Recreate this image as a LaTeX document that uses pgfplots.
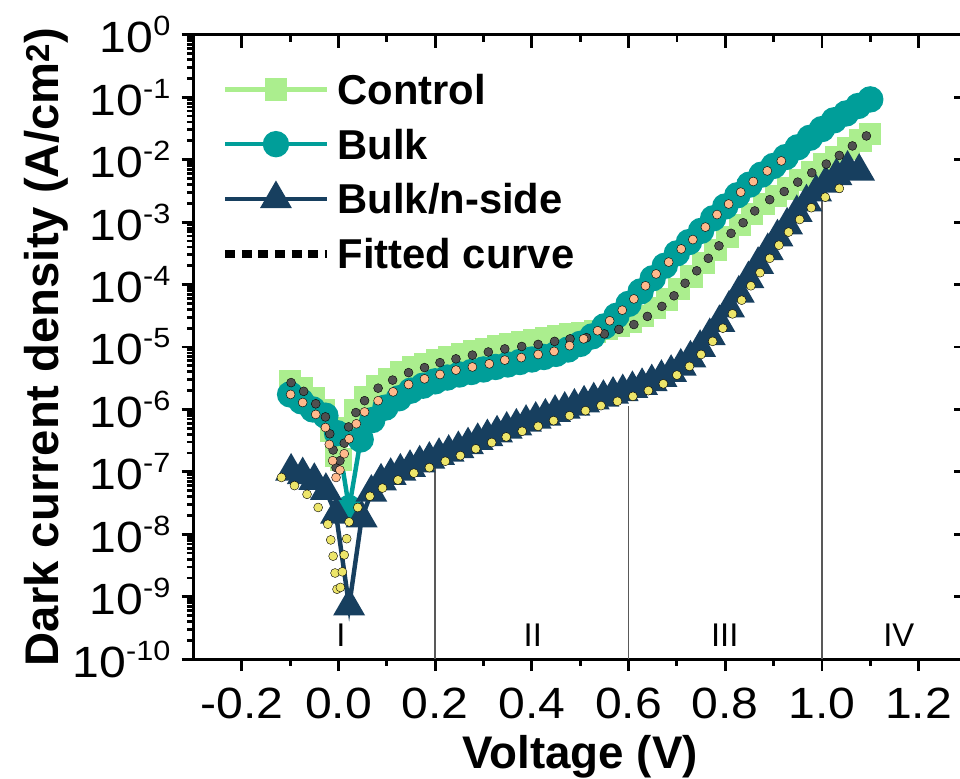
\documentclass[border=0pt]{standalone}
\usepackage{fontspec}
\setmainfont{Liberation Sans}
\newfontfamily\tickfont[FakeStretch=1.1]{Liberation Sans}
\usepackage{pgfplots}
\pgfplotsset{compat=1.18}
\definecolor{cctrl}{HTML}{ABEE8E}
\definecolor{cbulk}{HTML}{009E99}
\definecolor{cnside}{HTML}{173F5F}
\definecolor{fgray}{HTML}{505050}
\definecolor{fpeach}{HTML}{FFB98C}
\definecolor{fyellow}{HTML}{EDE56A}
\newcommand\tl[1]{10\raisebox{17pt}{\fontsize{28}{28}\selectfont #1}}
\begin{document}
\def\myminor{1e-10}
\foreach \e in {-10,...,-1}{\foreach \m in {2,...,9}{\xdef\myminor{\myminor,\m e\e}}}
\begin{tikzpicture}
\begin{axis}[
  at={(0pt,0pt)}, anchor=south west, scale only axis,
  width=778pt, height=628pt,
  xmin=-0.3, xmax=1.3, ymode=log, ymin=1e-10, ymax=1,
  axis line style={line width=3pt},
  tick style={line width=2.8pt, black},
  tick align=outside, xtick pos=bottom, ytick pos=left,
  major tick length=12pt, minor tick length=6.5pt,
  xtick={-0.2,0,0.2,0.4,0.6,0.8,1.0,1.2},
  xticklabels={-0.2,0.0,0.2,0.4,0.6,0.8,1.0,1.2},
  minor x tick num=1,
  ytick={1e-10,1e-9,1e-8,1e-7,1e-6,1e-5,1e-4,1e-3,1e-2,1e-1,1},
  yticklabels={\tl{-10},\tl{-9},\tl{-8},\tl{-7},\tl{-6},\tl{-5},\tl{-4},\tl{-3},\tl{-2},\tl{-1},\tl{0}},
  minor ytick/.expanded={\myminor},
  ticklabel style={font=\tickfont\fontsize{44}{44}\selectfont, inner sep=0pt},
  xticklabel style={anchor=north},
  yticklabel style={anchor=east},
  xticklabel shift=17pt, yticklabel shift=11pt,
  xlabel={Voltage (V)},
  ylabel={Dark current density (A/cm\textsuperscript{2})},
  label style={font=\bfseries\fontsize{46}{46}\selectfont, inner sep=0pt},
  xlabel style={at={(axis description cs:0.5,-0.1752)}, anchor=base},
  ylabel style={at={(axis description cs:-0.1748,0.5)}, anchor=base, font=\bfseries\fontsize{47.5}{47.5}\selectfont},
  legend style={at={(axis description cs:0.036,0.9363)}, anchor=north west, draw=none, fill=none,
    inner sep=0pt, outer sep=0pt, row sep=25pt, column sep=7pt,
    font=\bfseries\fontsize{42}{42}\selectfont,
    nodes={inner sep=0pt, text height=30pt, text depth=0pt}},
  legend cell align=left,
  legend image code/.code={\draw[mark repeat=2,mark phase=2,#1] plot coordinates {(0pt,0pt) (51pt,0pt) (102pt,0pt)};},
]
% guide lines
\addplot[forget plot, color=black!65, line width=1.5pt] coordinates {(0.2,1e-10) (0.2,1.26e-7)};
\addplot[forget plot, color=black!65, line width=1.5pt] coordinates {(0.6,1e-10) (0.6,1.15e-6)};
\addplot[forget plot, color=black!65, line width=1.5pt] coordinates {(1.0,1e-10) (1.0,2.34e-3)};

% Control
\addplot[color=cctrl, line width=4.5pt, mark=square*, mark size=9pt, mark options={draw=none, fill=cctrl}] coordinates {
(-0.100,2.82e-6) (-0.075,2.19e-6) (-0.050,1.51e-6) (-0.030,9.55e-7) (-0.015,4.47e-7) (-0.005,1.78e-7)
(0.005,1.58e-7) (0.015,5.01e-7) (0.035,9.55e-7) (0.055,1.58e-6) (0.080,2.40e-6) (0.105,3.09e-6)
(0.130,3.89e-6) (0.155,4.68e-6) (0.180,5.37e-6) (0.205,6.17e-6) (0.230,6.92e-6) (0.255,7.76e-6)
(0.280,8.51e-6) (0.305,9.33e-6) (0.330,1.02e-5) (0.355,1.12e-5) (0.380,1.20e-5) (0.405,1.29e-5)
(0.430,1.38e-5) (0.455,1.48e-5) (0.480,1.58e-5) (0.505,1.66e-5) (0.530,1.78e-5) (0.555,1.95e-5)
(0.580,2.19e-5) (0.605,2.57e-5) (0.630,3.16e-5) (0.655,4.17e-5) (0.680,5.75e-5) (0.705,8.51e-5)
(0.730,1.35e-4) (0.755,2.19e-4) (0.780,3.55e-4) (0.805,5.75e-4) (0.830,8.91e-4) (0.855,1.35e-3)
(0.880,1.95e-3) (0.905,2.63e-3) (0.930,3.47e-3) (0.955,4.68e-3) (0.980,6.31e-3) (1.005,8.32e-3)
(1.030,1.10e-2) (1.055,1.51e-2) (1.080,2.04e-2) (1.100,2.57e-2)};
\addlegendentry{Control}

% Bulk
\addplot[color=cbulk, line width=4.5pt, mark=*, mark size=11pt, mark options={draw=none, fill=cbulk}] coordinates {
(-0.100,1.74e-6) (-0.077,1.35e-6) (-0.053,1.00e-6) (-0.027,7.94e-7) (-0.003,4.17e-7) (0.022,2.63e-8)
(0.046,3.31e-7) (0.070,6.76e-7) (0.097,1.07e-6) (0.125,1.51e-6) (0.150,2.00e-6) (0.175,2.40e-6)
(0.200,2.82e-6) (0.225,3.24e-6) (0.250,3.63e-6) (0.275,3.98e-6) (0.300,4.37e-6) (0.325,4.79e-6)
(0.350,5.25e-6) (0.375,5.75e-6) (0.400,6.31e-6) (0.425,6.92e-6) (0.450,7.76e-6) (0.475,9.12e-6)
(0.500,1.12e-5) (0.525,1.48e-5) (0.550,2.14e-5) (0.575,3.16e-5) (0.600,4.90e-5) (0.625,7.76e-5)
(0.650,1.26e-4) (0.675,2.00e-4) (0.700,3.16e-4) (0.725,4.79e-4) (0.750,7.24e-4) (0.775,1.15e-3)
(0.800,1.78e-3) (0.825,2.69e-3) (0.850,3.98e-3) (0.875,5.75e-3) (0.900,7.94e-3) (0.925,1.10e-2)
(0.950,1.58e-2) (0.975,2.24e-2) (1.000,3.09e-2) (1.025,4.27e-2) (1.050,5.50e-2) (1.075,7.24e-2)
(1.100,9.23e-2)};
\addlegendentry{Bulk}

% Bulk/n-side
\addplot[color=cnside, line width=4.5pt, mark=triangle*, mark size=14pt, mark options={draw=none, fill=cnside}] coordinates {
(-0.098,1.02e-7) (-0.074,8.91e-8) (-0.050,7.24e-8) (-0.026,5.01e-8) (-0.005,2.09e-8) (0.022,7.08e-10)
(0.048,1.82e-8) (0.068,4.68e-8) (0.088,7.08e-8) (0.108,8.71e-8) (0.128,1.02e-7) (0.148,1.17e-7)
(0.168,1.38e-7) (0.188,1.58e-7) (0.208,1.82e-7) (0.228,2.04e-7) (0.248,2.34e-7) (0.268,2.69e-7)
(0.288,3.16e-7) (0.308,3.63e-7) (0.328,4.17e-7) (0.348,4.79e-7) (0.368,5.37e-7) (0.388,6.17e-7)
(0.408,6.92e-7) (0.428,7.76e-7) (0.448,8.91e-7) (0.468,1.00e-6) (0.488,1.12e-6) (0.508,1.26e-6)
(0.528,1.41e-6) (0.548,1.55e-6) (0.568,1.74e-6) (0.588,1.91e-6) (0.608,2.14e-6) (0.628,2.40e-6)
(0.648,2.75e-6) (0.668,3.24e-6) (0.688,3.89e-6) (0.708,4.90e-6) (0.728,6.61e-6) (0.748,9.77e-6)
(0.768,1.51e-5) (0.788,2.45e-5) (0.808,4.17e-5) (0.828,7.24e-5) (0.848,1.23e-4) (0.868,2.09e-4)
(0.888,3.47e-4) (0.908,5.75e-4) (0.928,8.91e-4) (0.948,1.41e-3) (0.968,2.09e-3) (0.988,3.02e-3)
(1.008,4.17e-3) (1.030,5.50e-3) (1.053,7.24e-3) (1.077,6.46e-3)};
\addlegendentry{Bulk/n-side}

% fitted curves
\addplot[forget plot, only marks, mark=*, mark size=4.5pt, mark options={draw=none, fill=fgray}] coordinates {
(-0.098,2.69e-6) (-0.072,1.95e-6) (-0.047,1.23e-6) (-0.027,7.59e-7) (-0.018,4.07e-7) (-0.011,2.24e-7)
(-0.005,1.17e-7) (0.003,1.51e-7) (0.012,2.88e-7) (0.021,5.25e-7) (0.036,8.91e-7) (0.054,1.38e-6)
(0.082,2.19e-6) (0.112,2.95e-6) (0.145,3.89e-6) (0.178,4.68e-6) (0.210,5.62e-6) (0.243,6.46e-6)
(0.277,7.41e-6) (0.310,8.32e-6) (0.344,9.33e-6) (0.379,1.02e-5) (0.413,1.10e-5) (0.447,1.23e-5)
(0.479,1.35e-5) (0.513,1.41e-5) (0.550,1.62e-5) (0.580,1.91e-5) (0.611,2.29e-5) (0.639,3.09e-5)
(0.669,4.47e-5) (0.694,6.61e-5) (0.717,1.05e-4) (0.741,1.66e-4) (0.765,2.63e-4) (0.787,4.17e-4)
(0.812,6.61e-4) (0.837,9.77e-4) (0.861,1.51e-3) (0.892,2.29e-3) (0.922,3.09e-3) (0.950,4.37e-3)
(0.979,6.17e-3) (1.009,8.51e-3) (1.036,1.17e-2) (1.063,1.66e-2) (1.092,2.40e-2)};
\addplot[forget plot, only marks, mark=*, mark size=4.5pt, mark options={draw=none, fill=fpeach}] coordinates {
(-0.099,1.74e-6) (-0.074,1.29e-6) (-0.047,8.32e-7) (-0.027,5.13e-7) (-0.019,2.75e-7) (-0.012,1.51e-7)
(-0.005,8.13e-8) (0.003,1.07e-7) (0.012,1.95e-7) (0.022,3.39e-7) (0.037,5.89e-7) (0.054,9.12e-7)
(0.082,1.38e-6) (0.113,1.91e-6) (0.145,2.51e-6) (0.178,3.09e-6) (0.210,3.63e-6) (0.243,4.27e-6)
(0.277,4.79e-6) (0.312,5.37e-6) (0.344,6.17e-6) (0.378,6.76e-6) (0.413,7.59e-6) (0.446,8.51e-6)
(0.478,1.05e-5) (0.507,1.35e-5) (0.536,1.82e-5) (0.561,2.63e-5) (0.587,3.89e-5) (0.611,5.89e-5)
(0.635,9.55e-5) (0.657,1.48e-4) (0.683,2.29e-4) (0.709,3.72e-4) (0.733,5.25e-4) (0.759,8.32e-4)
(0.783,1.32e-3) (0.807,1.95e-3) (0.832,3.02e-3) (0.858,4.47e-3) (0.887,6.61e-3) (0.916,9.55e-3)};
\addplot[forget plot, only marks, mark=*, mark size=4.5pt, mark options={draw=none, fill=fyellow}] coordinates {
(-0.118,8.13e-8) (-0.091,6.03e-8) (-0.065,4.37e-8) (-0.042,2.69e-8) (-0.022,1.45e-8) (-0.016,8.13e-9)
(-0.011,4.47e-9) (-0.007,2.40e-9) (-0.003,1.32e-9) (0.004,1.41e-9) (0.008,2.51e-9) (0.012,4.68e-9)
(0.017,8.51e-9) (0.022,1.58e-8) (0.040,2.69e-8) (0.065,4.07e-8) (0.091,5.50e-8) (0.123,7.41e-8)
(0.156,9.55e-8) (0.188,1.17e-7) (0.221,1.48e-7) (0.252,1.82e-7) (0.284,2.34e-7) (0.317,2.95e-7)
(0.347,3.63e-7) (0.380,4.47e-7) (0.413,5.37e-7) (0.445,6.61e-7) (0.478,7.94e-7) (0.511,9.55e-7)
(0.543,1.15e-6) (0.577,1.35e-6) (0.609,1.62e-6) (0.641,2.00e-6) (0.672,2.57e-6) (0.700,3.55e-6)
(0.726,4.90e-6) (0.750,7.59e-6) (0.774,1.23e-5) (0.795,2.00e-5) (0.815,3.39e-5) (0.834,5.62e-5)
(0.853,9.55e-5) (0.872,1.55e-4) (0.892,2.63e-4) (0.911,4.27e-4) (0.931,6.92e-4) (0.954,1.10e-3)
(0.978,1.70e-3) (1.007,2.51e-3) (1.036,3.47e-3)};
\addlegendimage{legend image code/.code={\draw[black, line width=8pt, dash pattern=on 10pt off 6.7pt] (0pt,0pt) -- (102pt,0pt);}}
\addlegendentry{Fitted curve}

\node[font=\fontsize{33}{33}\selectfont, anchor=base, inner sep=0pt] at (axis cs:0.005,1.6e-10) {I};
\node[font=\fontsize{33}{33}\selectfont, anchor=base, inner sep=0pt] at (axis cs:0.402,1.6e-10) {II};
\node[font=\fontsize{33}{33}\selectfont, anchor=base, inner sep=0pt] at (axis cs:0.799,1.6e-10) {III};
\node[font=\fontsize{33}{33}\selectfont, anchor=base, inner sep=0pt] at (axis cs:1.159,1.6e-10) {IV};
\end{axis}
\begin{axis}[
  at={(0pt,0pt)}, anchor=south west, scale only axis,
  width=778pt, height=628pt,
  xmin=-0.3, xmax=1.3, ymode=log, ymin=1e-10, ymax=1,
  axis line style={draw=none},
  tick style={line width=2.8pt, black},
  tick align=inside, xtick pos=top, ytick pos=right,
  major tick length=13pt, minor tick length=7pt,
  xtick={-0.2,0,0.2,0.4,0.6,0.8,1.0,1.2}, minor x tick num=1,
  ytick={1e-10,1e-9,1e-8,1e-7,1e-6,1e-5,1e-4,1e-3,1e-2,1e-1,1},
  minor ytick={},
  xticklabels={}, yticklabels={},
]
\end{axis}
\pgfresetboundingbox
\useasboundingbox (-189pt,-120pt) rectangle (771pt,663pt);
\end{tikzpicture}
\end{document}
